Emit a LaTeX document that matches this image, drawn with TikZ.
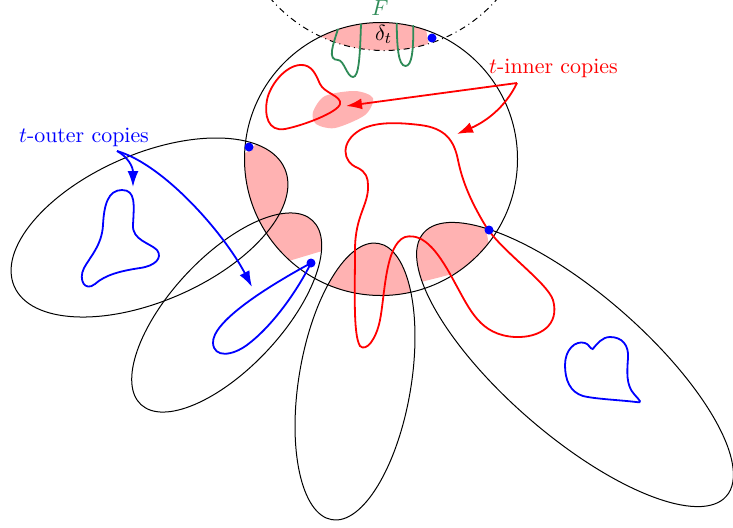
\documentclass[tikz,border=0pt]{standalone}
\usetikzlibrary{arrows.meta}
\definecolor{fgreen}{RGB}{46,139,87}
\definecolor{lenspink}{RGB}{255,178,178}
\begin{document}
\begin{tikzpicture}[x=0.5pt,y=-0.5pt,
  petal/.style={draw=black,line width=0.5pt},
  curve/.style={line width=0.9pt},
  arr/.style={line width=0.9pt,-{Latex[length=8pt,width=5.5pt]}},
  dot/.style={circle,fill=blue,inner sep=0pt,minimum size=4.5pt},
  lbl/.style={inner sep=1pt,font=\fontsize{10.95pt}{13pt}\selectfont}]
\useasboundingbox (0,0) rectangle (733,527);
\clip (0,0) rectangle (733,527);

% ---- pink lenses ----
\begin{scope}
  \clip (381,159) circle[radius=136.5];
  \clip[rotate around={23.5:(149.5,227.5)}] (149.5,227.5) ellipse[x radius=147.5, y radius=73.6];
  \clip (192,197) -- (311,99) -- (450,300) -- (150,350) -- cycle;
  \fill[lenspink] (0,0) rectangle (733,527);
\end{scope}
\begin{scope}
  \clip (381,159) circle[radius=136.5];
  \clip[rotate around={47:(226.7,312.5)}] (226.7,312.5) ellipse[x radius=125.8, y radius=55.7];
  \clip (232,278) -- (382,233) -- (382,150) -- (232,150) -- cycle;
  \fill[lenspink] (0,0) rectangle (733,527);
\end{scope}
\begin{scope}
  \clip (381,159) circle[radius=136.5];
  \clip[rotate around={80.5:(355,381.5)}] (355,381.5) ellipse[x radius=140.1, y radius=56.1];
  \fill[lenspink] (0,0) rectangle (733,527);
\end{scope}
\begin{scope}
  \clip (381,159) circle[radius=136.5];
  \clip[rotate around={-41:(575,364.5)}] (575,364.5) ellipse[x radius=200.6, y radius=70.9];
  \clip (481,198) -- (492,264) -- (350,300) -- (350,150) -- cycle;
  \fill[lenspink] (0,0) rectangle (733,527);
\end{scope}
\begin{scope}
  \clip (381,159) circle[radius=136.5];
  \clip (384,-99.5) circle[radius=150];
  \clip (423,10) -- (431,60) -- (300,60) -- (300,10) -- cycle;
  \fill[lenspink] (0,0) rectangle (733,527);
\end{scope}
\fill[lenspink] plot[smooth cycle] coordinates {(313,112) (325,96) (355,91) (373,98) (365,115) (335,128) (316,124)};

% ---- black outlines ----
\draw[petal] (381,159) circle[radius=136.5];
\draw[petal, rotate around={23.5:(149.5,227.5)}] (149.5,227.5) ellipse[x radius=147.5, y radius=73.6];
\draw[petal, rotate around={47:(226.7,312.5)}] (226.7,312.5) ellipse[x radius=125.8, y radius=55.7];
\draw[petal, rotate around={80.5:(355,381.5)}] (355,381.5) ellipse[x radius=140.1, y radius=56.1];
\draw[petal, rotate around={-41:(575,364.5)}] (575,364.5) ellipse[x radius=200.6, y radius=70.9];
\draw[petal, dashdotted] (384,-99.5) circle[radius=150];

% ---- green F curves ----
\draw[fgreen,curve] (338,29) .. controls (333,45) and (327,60) .. (338,60)
  .. controls (344,60) and (347,77) .. (353,77)
  .. controls (359,77) and (360,55) .. (361,24);
\draw[fgreen,curve] (396.7,23) .. controls (397,45) and (398,66) .. (405.5,66)
  .. controls (412,66) and (413.5,50) .. (413.3,25);

% ---- red inner copies ----
\draw[red,curve] (300,65) .. controls (312,64) and (316,75) .. (320,84)
  .. controls (324,93) and (342,96) .. (340,104)
  .. controls (338,112) and (305,125) .. (285,129)
  .. controls (268,132) and (264,115) .. (267,100)
  .. controls (270,85) and (285,66) .. (300,65) -- cycle;
\draw[red,curve] (368,185) .. controls (369,205) and (355,215) .. (355,250)
  .. controls (355,290) and (353,335) .. (360,346)
  .. controls (366,352) and (376,340) .. (380,320)
  .. controls (385,295) and (385,245) .. (405,237)
  .. controls (425,232) and (440,255) .. (455,283)
  .. controls (470,310) and (480,335) .. (515,337)
  .. controls (540,338) and (560,325) .. (553,300)
  .. controls (547,282) and (500,250) .. (485,225)
  .. controls (470,200) and (462,180) .. (458,160)
  .. controls (454,140) and (445,128) .. (420,125)
  .. controls (395,122) and (375,122) .. (360,130)
  .. controls (340,142) and (342,162) .. (358,168)
  .. controls (366,172) and (368,178) .. (368,185) -- cycle;

% ---- blue outer copies ----
\draw[blue,curve] (122,190) .. controls (136,190) and (134,205) .. (133,225)
  .. controls (132,240) and (150,243) .. (157,250)
  .. controls (163,258) and (155,266) .. (140,268)
  .. controls (120,271) and (105,275) .. (95,284)
  .. controls (85,292) and (78,280) .. (84,268)
  .. controls (90,257) and (102,245) .. (103,225)
  .. controls (104,205) and (108,190) .. (122,190) -- cycle;
\draw[blue,curve] (311,263) .. controls (265,288) and (212,322) .. (213,343)
  .. controls (214,358) and (232,356) .. (247,345)
  .. controls (270,328) and (295,295) .. (311,263);
\draw[blue,curve] (592.7,349) .. controls (597,344) and (602,337) .. (610,337)
  .. controls (622,337) and (629,345) .. (628,358)
  .. controls (627,372) and (626,385) .. (634,394)
  .. controls (640,401) and (643,403) .. (636,402)
  .. controls (620,400) and (595,399) .. (583,396)
  .. controls (570,392) and (565,380) .. (565,365)
  .. controls (565,350) and (575,340) .. (585,343)
  .. controls (589,344) and (590,349) .. (592.7,349) -- cycle;

% ---- labels ----
\node[lbl,text=fgreen,anchor=base] (F) at (380,15.5) {$F$};
\node[lbl,anchor=base] (dt) at (383.5,40.5) {$\delta_t$};
\node[lbl,text=red] (inner) at (553.5,68) {$t$-inner copies};
\node[lbl,text=blue] (outer) at (84,137) {$t$-outer copies};

% ---- arrows ----
\coordinate (is) at (517,83);
\coordinate (ia) at (346,106);
\coordinate (ib) at (457,134);
\draw[arr,red] (is) -- (ia);
\draw[arr,red] (is) .. controls (505,108) and (485,122) .. (ib);
\coordinate (os) at (117,151);
\coordinate (oa) at (133,187);
\coordinate (ob) at (252,287);
\draw[arr,blue] (os) .. controls (128,157) and (133,167) .. (oa);
\draw[arr,blue] (os) .. controls (165,165) and (225,235) .. (ob);

% ---- dots ----
\node[dot] (d1) at (249,147) {};
\node[dot] (d2) at (311,263) {};
\node[dot] (d3) at (489,230) {};
\node[dot] (d4) at (432,38) {};
\end{tikzpicture}
\end{document}
